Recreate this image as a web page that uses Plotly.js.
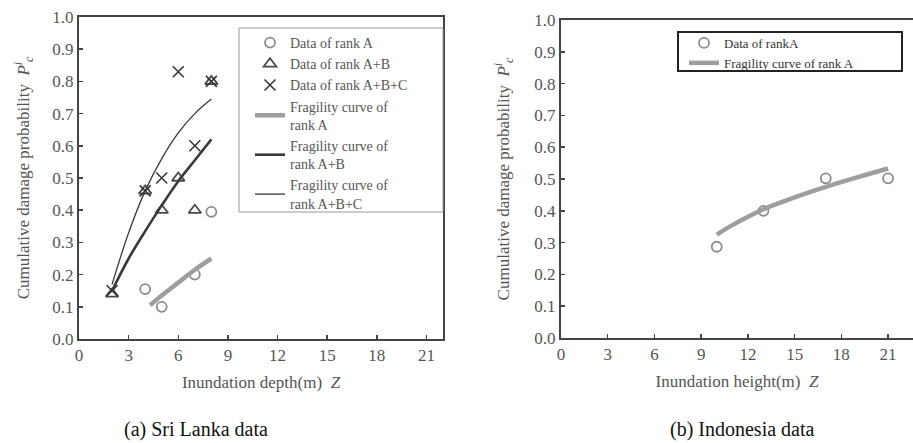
<!DOCTYPE html>
<html>
<head>
<meta charset="utf-8">
<script src="https://cdn.plot.ly/plotly-3.0.1.min.js"></script>
<style>html,body{margin:0;padding:0;background:#fff;}#chart{width:913px;height:443px;}</style>
</head>
<body>
<div id="chart"></div>
<script>
// ---- Sri Lanka data (a) ----
const slRankAX = [4, 5, 7, 8];
const slRankAY = [0.155, 0.10, 0.20, 0.395];
const slRankABX = [2, 4, 5, 6, 7, 8];
const slRankABY = [0.14, 0.46, 0.40, 0.50, 0.40, 0.80];
const slRankABCX = [2, 4, 5, 6, 7, 8];
const slRankABCY = [0.15, 0.46, 0.50, 0.83, 0.60, 0.80];
const slCurveAX = [4.3, 5, 6, 7, 8];
const slCurveAY = [0.105, 0.135, 0.175, 0.215, 0.25];
const slCurveABX = [2, 3, 4, 5, 6, 7, 8];
const slCurveABY = [0.15, 0.25, 0.335, 0.415, 0.49, 0.555, 0.62];
const slCurveABCX = [2, 3, 4, 5, 6, 7, 8];
const slCurveABCY = [0.17, 0.33, 0.46, 0.56, 0.64, 0.70, 0.745];
// ---- Indonesia data (b) ----
const inRankAX = [10, 13, 17, 21];
const inRankAY = [0.287, 0.40, 0.502, 0.502];
const inCurveAX = [10, 11, 13, 15, 17, 19, 21];
const inCurveAY = [0.325, 0.355, 0.405, 0.442, 0.475, 0.505, 0.533];
// ---- ticks ----
const xTicks = [0, 3, 6, 9, 12, 15, 18, 21];
const yTicks = [0, 0.1, 0.2, 0.3, 0.4, 0.5, 0.6, 0.7, 0.8, 0.9, 1.0];

const serif = '"Liberation Serif", "DejaVu Serif", serif';
const gray = '#555';
const W = 913, H = 443;
const px = v => v / W;
const py = v => 1 - v / H;

const traces = [
  {x: slRankAX, y: slRankAY, xaxis: 'x', yaxis: 'y', mode: 'markers', name: 'Data of rank A', legend: 'legend',
   marker: {symbol: 'circle-open', size: 10, color: '#8c8c8c', line: {width: 1.8, color: '#8c8c8c'}}},
  {x: slRankABX, y: slRankABY, xaxis: 'x', yaxis: 'y', mode: 'markers', name: 'Data of rank A+B', legend: 'legend',
   marker: {symbol: 'triangle-up-open', size: 11, color: '#4a4a4a', line: {width: 1.8, color: '#4a4a4a'}}},
  {x: slRankABCX, y: slRankABCY, xaxis: 'x', yaxis: 'y', mode: 'markers', name: 'Data of rank A+B+C', legend: 'legend',
   marker: {symbol: 'x-thin-open', size: 11, color: '#333', line: {width: 1.5, color: '#333'}}},
  {x: slCurveAX, y: slCurveAY, xaxis: 'x', yaxis: 'y', mode: 'lines', name: 'Fragility curve of<br>rank A', legend: 'legend',
   line: {color: '#9e9e9e', width: 4.5, shape: 'spline', smoothing: 1}},
  {x: slCurveABX, y: slCurveABY, xaxis: 'x', yaxis: 'y', mode: 'lines', name: 'Fragility curve of<br>rank A+B', legend: 'legend',
   line: {color: '#3a3a3a', width: 2.6, shape: 'spline', smoothing: 1}},
  {x: slCurveABCX, y: slCurveABCY, xaxis: 'x', yaxis: 'y', mode: 'lines', name: 'Fragility curve of<br>rank A+B+C', legend: 'legend',
   line: {color: '#3a3a3a', width: 1.3, shape: 'spline', smoothing: 1}},
  {x: inRankAX, y: inRankAY, xaxis: 'x2', yaxis: 'y2', mode: 'markers', name: 'Data of rankA', legend: 'legend2',
   marker: {symbol: 'circle-open', size: 10, color: '#8c8c8c', line: {width: 1.8, color: '#8c8c8c'}}},
  {x: inCurveAX, y: inCurveAY, xaxis: 'x2', yaxis: 'y2', mode: 'lines', name: 'Fragility curve of rank A', legend: 'legend2',
   line: {color: '#9e9e9e', width: 4.5, shape: 'spline', smoothing: 1}}
];

const axBase = {
  showgrid: false, zeroline: false, showline: true, linecolor: '#444', linewidth: 2,
  ticks: 'inside', ticklen: 4, tickwidth: 1.5, tickcolor: '#444',
  tickfont: {family: serif, size: 17, color: gray}
};

const ytitle = 'Cumulative damage probability  <i>P</i><sup><i>i</i></sup><sub><i>c</i></sub>';

const layout = {
  width: W, height: H,
  margin: {l: 0, r: 0, t: 0, b: 0},
  paper_bgcolor: '#fff', plot_bgcolor: '#fff',
  font: {family: serif},
  showlegend: true,
  xaxis: Object.assign({}, axBase, {
    domain: [px(79), px(443)], range: [0, 22], tickvals: xTicks, ticktext: xTicks.map(String),
    mirror: true, anchor: 'y',
    title: {text: 'Inundation depth(m)  <i>Z</i>', font: {family: serif, size: 17, color: gray}, standoff: 12}
  }),
  yaxis: Object.assign({}, axBase, {
    domain: [py(339), py(17)], range: [0, 1], tickvals: yTicks, ticktext: yTicks.map(v => v.toFixed(1)),
    mirror: true, anchor: 'x',
    title: {text: ytitle, font: {family: serif, size: 17, color: gray}, standoff: 18}
  }),
  xaxis2: Object.assign({}, axBase, {
    domain: [px(561), 1], range: [0, 22.6], tickvals: xTicks, ticktext: xTicks.map(String),
    mirror: true, anchor: 'y2',
    title: {text: 'Inundation height(m)  <i>Z</i>', font: {family: serif, size: 17, color: gray}, standoff: 12}
  }),
  yaxis2: Object.assign({}, axBase, {
    domain: [py(338), py(20)], range: [0, 1], tickvals: yTicks, ticktext: yTicks.map(v => v.toFixed(1)),
    mirror: false, anchor: 'x2',
    title: {text: ytitle, font: {family: serif, size: 17, color: gray}, standoff: 20}
  }),
  legend: {
    x: px(250), y: py(27), xanchor: 'left', yanchor: 'top',
    bgcolor: 'rgba(0,0,0,0)', borderwidth: 0,
    font: {family: serif, size: 14, color: gray},
    tracegroupgap: 0, itemwidth: 30
  },
  legend2: {
    x: px(684), y: py(28), xanchor: 'left', yanchor: 'top',
    bgcolor: 'rgba(0,0,0,0)', borderwidth: 0,
    font: {family: serif, size: 13, color: '#333'},
    tracegroupgap: 0, itemwidth: 30
  },
  shapes: [
    {type: 'rect', xref: 'paper', yref: 'paper', x0: px(239), x1: px(443), y0: py(212), y1: py(28),
     line: {color: '#999', width: 1}},
    {type: 'rect', xref: 'paper', yref: 'paper', x0: px(678), x1: px(902), y0: py(71), y1: py(32),
     line: {color: '#222', width: 2}}
  ],
  annotations: [
    {text: '(a) Sri Lanka data', xref: 'paper', yref: 'paper', x: px(196), y: py(429), xanchor: 'center', yanchor: 'middle',
     showarrow: false, font: {family: serif, size: 20, color: '#111'}},
    {text: '(b) Indonesia data', xref: 'paper', yref: 'paper', x: px(742), y: py(429), xanchor: 'center', yanchor: 'middle',
     showarrow: false, font: {family: serif, size: 20, color: '#111'}}
  ]
};

Plotly.newPlot('chart', traces, layout, {displayModeBar: false, staticPlot: true});
</script>
</body>
</html>
